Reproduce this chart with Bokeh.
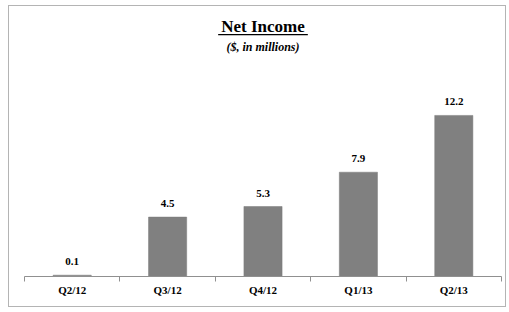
from bokeh.plotting import figure
from bokeh.models import Range1d, FixedTicker, Label, BoxAnnotation, ColumnDataSource
from bokeh.embed import file_html
from bokeh.resources import INLINE

categories = ["Q2/12", "Q3/12", "Q4/12", "Q1/13", "Q2/13"]
net_income = [0.1, 4.5, 5.3, 7.9, 12.2]
value_labels = ["0.1", "4.5", "5.3", "7.9", "12.2"]

xs = [i + 0.5 for i in range(len(categories))]
src = ColumnDataSource(dict(x=xs, top=net_income, lab=value_labels))

W, H = 498, 302
p = figure(width=W, height=H, output_backend="svg", toolbar_location=None,
           x_range=Range1d(0, len(categories)), y_range=Range1d(0, 20.45),
           min_border_left=15, min_border_right=6, min_border_top=0, min_border_bottom=32)
p.styles = {"border": "1px solid #b4b4b4", "margin-left": "8px", "margin-top": "5px"}
p.outline_line_color = None
p.grid.visible = False
p.yaxis.visible = False
p.background_fill_color = "white"
p.border_fill_color = "white"

p.vbar(x="x", top="top", width=0.4, bottom=0, source=src,
       fill_color="#808080", line_color="#7a7a7a", line_width=0.5)
p.text(x="x", y="top", text="lab", source=src, text_align="center",
       text_baseline="bottom", y_offset=-10, text_font="Liberation Serif",
       text_font_style="bold", text_font_size="11px", text_color="black")

ax = p.xaxis[0]
ax.ticker = FixedTicker(ticks=xs, minor_ticks=list(range(len(categories) + 1)))
ax.major_label_overrides = {x: c for x, c in zip(xs, categories)}
ax.major_tick_line_color = None
ax.minor_tick_out = 5
ax.minor_tick_in = 0
ax.minor_tick_line_color = "#909090"
ax.axis_line_color = "#909090"
ax.major_label_text_font = "Liberation Serif"
ax.major_label_text_font_style = "bold"
ax.major_label_text_font_size = "11px"
ax.major_label_text_color = "black"
ax.major_label_standoff = 1

cx = len(categories) / 2
p.add_layout(Label(x=cx, y=18.25, text="Net Income", text_align="center",
                   text_baseline="bottom", text_font="Liberation Serif",
                   text_font_style="bold", text_font_size="17px", text_color="black"))
p.add_layout(BoxAnnotation(left=cx - 0.47, right=cx + 0.47, bottom=18.28, top=18.36,
                           fill_color="black", fill_alpha=1, line_color=None))
p.add_layout(Label(x=cx, y=17.9, text="($, in millions)", text_align="center",
                   text_baseline="top", text_font="Liberation Serif",
                   text_font_style="bold italic", text_font_size="12px", text_color="black"))

open("out.html", "w").write(file_html(p, INLINE))
